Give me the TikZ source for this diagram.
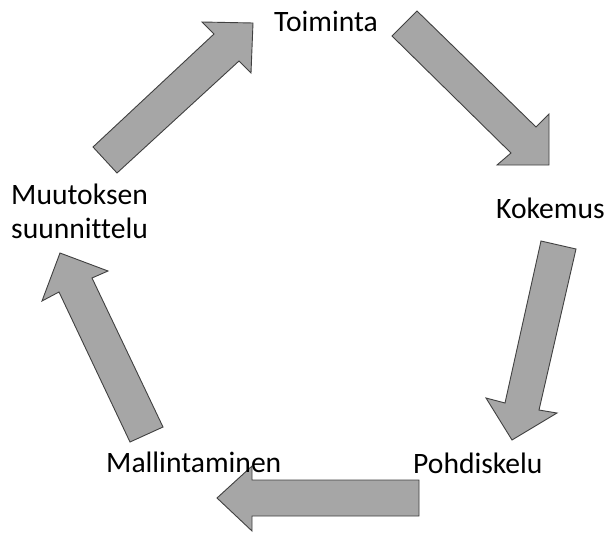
\documentclass[tikz,border=0pt]{standalone}
\usepackage{fontspec}
\setmainfont{Carlito}[Ligatures=NoCommon]
\begin{document}
\begin{tikzpicture}[x=1pt,y=-1pt,
  blockarrow/.style={fill=arrowgray,draw=arrowedge,line width=0.9pt,line join=miter},
  lbl/.style={anchor=base west,inner sep=0pt,font=\fontsize{29.6}{34}\selectfont,text=black}]
\definecolor{arrowgray}{HTML}{A6A6A6}
\definecolor{arrowedge}{HTML}{404040}
\useasboundingbox (0,0) rectangle (604,532);
% Toiminta -> Kokemus
\draw[blockarrow] (392,36) -- (417,11) -- (536,127) -- (549,114) -- (549,165) -- (497,165) -- (511,153) -- cycle;
% Kokemus -> Pohdiskelu
\draw[blockarrow] (541,241) -- (576,249) -- (539,410) -- (557,413) -- (512,440) -- (486,398) -- (505,403) -- cycle;
% Pohdiskelu -> Mallintaminen
\draw[blockarrow] (419,480) -- (252,480) -- (252,466) -- (217,498) -- (252,531) -- (252,516) -- (419,516) -- cycle;
% Mallintaminen -> Muutoksen suunnittelu
\draw[blockarrow] (130,442) -- (163,427) -- (92,278) -- (108,271) -- (60,253) -- (42,301) -- (59,292) -- cycle;
% Muutoksen suunnittelu -> Toiminta
\draw[blockarrow] (93,147) -- (117,173) -- (239,61) -- (251,73) -- (253,23) -- (202,22) -- (214,34) -- cycle;
% labels
\node[lbl] (toiminta) at (274,32) {Toiminta};
\node[lbl] (kokemus) at (496,218) {Kokemus};
\node[lbl] (pohdiskelu) at (413,473) {Pohdiskelu};
\node[lbl] (mallintaminen) at (106,472) {Mallintaminen};
\node[lbl] (muutoksen) at (11,204) {Muutoksen};
\node[lbl] (suunnittelu) at (11,238) {suunnittelu};
\end{tikzpicture}
\end{document}
